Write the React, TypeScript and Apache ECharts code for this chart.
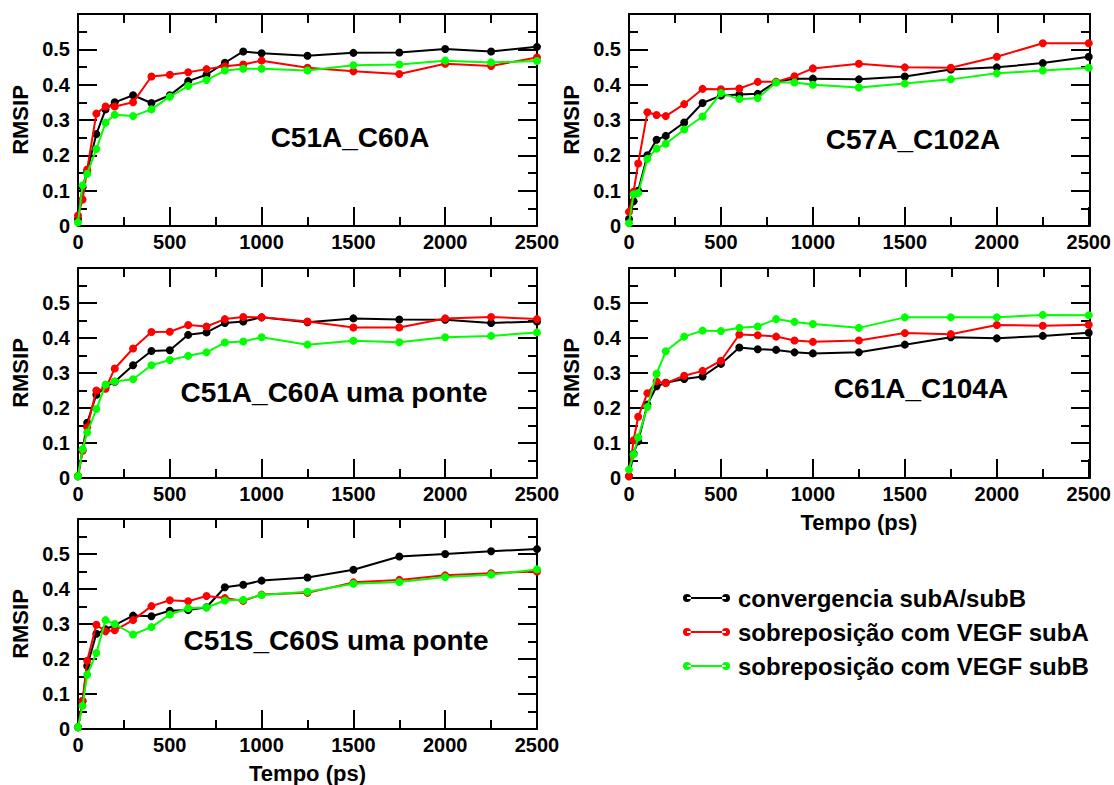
import React, { useEffect, useRef } from "react";
import * as echarts from "echarts";

// Time points (ps)
const timePs = [0, 25, 50, 100, 150, 200, 300, 400, 500, 600, 700, 800, 900, 1000, 1250, 1500, 1750, 2000, 2250, 2500];

const seriesNames = ["convergencia subA/subB", "sobreposição com VEGF subA", "sobreposição com VEGF subB"];
const seriesColors = ["#000000", "#ff0000", "#00ff00"];

const panelTitles = ["C51A_C60A", "C57A_C102A", "C51A_C60A uma ponte", "C61A_C104A", "C51S_C60S uma ponte"];

// Panel 1: C51A_C60A
const p1Black = [0.02, 0.11, 0.155, 0.26, 0.33, 0.35, 0.37, 0.348, 0.37, 0.41, 0.428, 0.462, 0.494, 0.489, 0.482, 0.49, 0.491, 0.501, 0.494, 0.507];
const p1Red = [0.03, 0.075, 0.16, 0.318, 0.338, 0.338, 0.35, 0.423, 0.428, 0.435, 0.444, 0.452, 0.457, 0.468, 0.448, 0.438, 0.43, 0.459, 0.453, 0.477];
const p1Green = [0.01, 0.115, 0.148, 0.218, 0.292, 0.315, 0.311, 0.33, 0.366, 0.396, 0.413, 0.44, 0.445, 0.445, 0.44, 0.455, 0.457, 0.468, 0.463, 0.467];

// Panel 2: C57A_C102A
const p2Black = [0.02, 0.07, 0.1, 0.2, 0.244, 0.255, 0.293, 0.348, 0.369, 0.372, 0.374, 0.408, 0.417, 0.417, 0.415, 0.423, 0.443, 0.449, 0.461, 0.479];
const p2Red = [0.04, 0.097, 0.177, 0.322, 0.314, 0.311, 0.345, 0.388, 0.387, 0.389, 0.408, 0.408, 0.424, 0.446, 0.459, 0.449, 0.448, 0.479, 0.517, 0.517];
const p2Green = [0.008, 0.09, 0.093, 0.19, 0.219, 0.233, 0.273, 0.31, 0.376, 0.359, 0.362, 0.406, 0.406, 0.4, 0.392, 0.403, 0.415, 0.432, 0.44, 0.448];

// Panel 3: C51A_C60A uma ponte
const p3Black = [0.005, 0.08, 0.158, 0.238, 0.26, 0.275, 0.322, 0.363, 0.365, 0.409, 0.416, 0.443, 0.447, 0.459, 0.445, 0.456, 0.453, 0.452, 0.443, 0.447];
const p3Red = [0.005, 0.078, 0.145, 0.25, 0.255, 0.313, 0.37, 0.417, 0.418, 0.437, 0.433, 0.454, 0.46, 0.459, 0.447, 0.43, 0.43, 0.456, 0.46, 0.454];
const p3Green = [0.005, 0.082, 0.13, 0.197, 0.267, 0.276, 0.282, 0.322, 0.337, 0.349, 0.359, 0.387, 0.39, 0.402, 0.381, 0.392, 0.388, 0.402, 0.406, 0.416];

// Panel 4: C61A_C104A
const p4Black = [0.005, 0.07, 0.105, 0.21, 0.262, 0.272, 0.283, 0.29, 0.326, 0.373, 0.368, 0.366, 0.359, 0.356, 0.359, 0.381, 0.402, 0.399, 0.406, 0.415];
const p4Red = [0.005, 0.108, 0.175, 0.242, 0.276, 0.271, 0.292, 0.306, 0.335, 0.41, 0.408, 0.404, 0.393, 0.389, 0.393, 0.414, 0.411, 0.437, 0.435, 0.438];
const p4Green = [0.024, 0.068, 0.116, 0.203, 0.298, 0.362, 0.404, 0.421, 0.42, 0.429, 0.433, 0.454, 0.446, 0.44, 0.429, 0.459, 0.459, 0.459, 0.466, 0.465];

// Panel 5: C51S_C60S uma ponte
const p5Black = [0.005, 0.08, 0.18, 0.272, 0.285, 0.297, 0.324, 0.322, 0.338, 0.34, 0.348, 0.405, 0.412, 0.424, 0.433, 0.455, 0.493, 0.5, 0.508, 0.514];
const p5Red = [0.005, 0.08, 0.195, 0.298, 0.279, 0.282, 0.311, 0.351, 0.368, 0.365, 0.38, 0.374, 0.366, 0.384, 0.389, 0.419, 0.426, 0.439, 0.445, 0.45];
const p5Green = [0.005, 0.066, 0.155, 0.217, 0.311, 0.3, 0.27, 0.291, 0.327, 0.345, 0.347, 0.367, 0.369, 0.383, 0.392, 0.415, 0.42, 0.434, 0.441, 0.456];

const panelData = [
  [p1Black, p1Red, p1Green],
  [p2Black, p2Red, p2Green],
  [p3Black, p3Red, p3Green],
  [p4Black, p4Red, p4Green],
  [p5Black, p5Red, p5Green],
];

const yAxisName = "RMSIP";
const xAxisName = "Tempo (ps)";
const xMin = 0, xMax = 2500, xInterval = 500;
const yMin = 0, yMax = 0.6, yInterval = 0.1;

const FONT = "'Liberation Sans', Arial, Helvetica, sans-serif";
const MAJOR_LEN = 19;
const MINOR_LEN = 9;

const gridBoxes = [
  { left: 78, top: 14, width: 459, height: 212 },
  { left: 629, top: 14, width: 461, height: 212 },
  { left: 78, top: 268, width: 459, height: 210 },
  { left: 629, top: 268, width: 461, height: 210 },
  { left: 78, top: 519, width: 459, height: 210 },
];
const titlePos = [
  { x: 350, y: 137 },
  { x: 913, y: 139 },
  { x: 334, y: 392 },
  { x: 921, y: 388 },
  { x: 336, y: 640 },
];
const showXName = [false, false, false, true, true];

const legendIcon =
  "path://M0,40 A40,40 0 1,0 80,40 A40,40 0 1,0 0,40 Z M390,40 A40,40 0 1,0 470,40 A40,40 0 1,0 390,40 Z M40,30 L430,30 L430,50 L40,50 Z";

const mkLine = () => ({ show: true, onZero: false, lineStyle: { color: "#000", width: 2 } });
const mkTick = () => ({ show: true, inside: true, length: MAJOR_LEN, lineStyle: { color: "#000", width: 2 } });
const mkMinor = () => ({ show: true, splitNumber: 2, length: MINOR_LEN, lineStyle: { color: "#000", width: 2 } });

function buildOption() {
  const labelStyle = { color: "#000", fontFamily: FONT, fontWeight: "bold" as const, fontSize: 20 };
  const nameStyle = { color: "#000", fontFamily: FONT, fontWeight: "bold" as const, fontSize: 22 };

  const grid: any[] = [];
  const xAxis: any[] = [];
  const yAxis: any[] = [];
  const series: any[] = [];
  const graphic: any[] = [];

  gridBoxes.forEach((g, i) => {
    // two overlapping grids per panel: one for bottom/left axes, one for top/right frame axes
    grid.push({ ...g });
    grid.push({ ...g });

    xAxis.push({
      type: "value", gridIndex: 2 * i, position: "bottom", min: xMin, max: xMax, interval: xInterval,
      axisLine: mkLine(), axisTick: mkTick(), minorTick: mkMinor(), splitLine: { show: false },
      axisLabel: { ...labelStyle, margin: 6, formatter: (val: number) => String(val) },
      name: showXName[i] ? xAxisName : "",
      nameLocation: "middle", nameGap: 33,
      nameTextStyle: nameStyle,
    });
    xAxis.push({
      type: "value", gridIndex: 2 * i + 1, position: "top", min: xMin, max: xMax, interval: xInterval,
      axisLine: mkLine(), axisTick: mkTick(), minorTick: mkMinor(), splitLine: { show: false },
      axisLabel: { show: false },
    });
    yAxis.push({
      type: "value", gridIndex: 2 * i, position: "left", min: yMin, max: yMax, interval: yInterval,
      axisLine: mkLine(), axisTick: mkTick(), minorTick: mkMinor(), splitLine: { show: false },
      axisLabel: {
        ...labelStyle, margin: 8, showMaxLabel: false,
        formatter: (val: number) => (val === 0 ? "0" : String(Math.round(val * 10) / 10)),
      },
      name: yAxisName, nameLocation: "middle", nameRotate: 90, nameGap: 47,
      nameTextStyle: nameStyle,
    });
    yAxis.push({
      type: "value", gridIndex: 2 * i + 1, position: "right", min: yMin, max: yMax, interval: yInterval,
      axisLine: mkLine(), axisTick: mkTick(), minorTick: mkMinor(), splitLine: { show: false },
      axisLabel: { show: false },
    });

    panelData[i].forEach((arr, s) => {
      series.push({
        type: "line", name: seriesNames[s], xAxisIndex: 2 * i, yAxisIndex: 2 * i,
        data: timePs.map((t, k) => [t, arr[k]]),
        symbol: "circle", symbolSize: 8, showSymbol: true,
        itemStyle: { color: seriesColors[s] },
        lineStyle: { color: seriesColors[s], width: 2 },
        z: 2 + s,
      });
    });

    graphic.push({
      type: "text", x: titlePos[i].x, y: titlePos[i].y, z: 60,
      style: {
        text: panelTitles[i], fill: "#000", font: `bold 28px ${FONT}`,
        textAlign: "center", textVerticalAlign: "middle",
      },
    });
  });

  return {
    animation: false,
    grid, xAxis, yAxis, series, graphic,
    legend: {
      data: seriesNames,
      orient: "vertical", left: 678, top: 580,
      icon: legendIcon, itemWidth: 47, itemHeight: 8, itemGap: 8,
      textStyle: { color: "#000", fontFamily: FONT, fontWeight: "bold", fontSize: 24, lineHeight: 26, padding: [0, 0, 0, 3] },
      selectedMode: false,
    },
  };
}

export default function App() {
  const ref = useRef<HTMLDivElement>(null);
  useEffect(() => {
    if (!ref.current) return;
    const chart = echarts.init(ref.current, undefined, { renderer: "svg" });
    chart.setOption(buildOption() as any);
    return () => chart.dispose();
  }, []);
  return (
    <div
      ref={ref}
      style={{ position: "fixed", left: 0, top: 0, width: 1114, height: 785, background: "#fff" }}
    />
  );
}
